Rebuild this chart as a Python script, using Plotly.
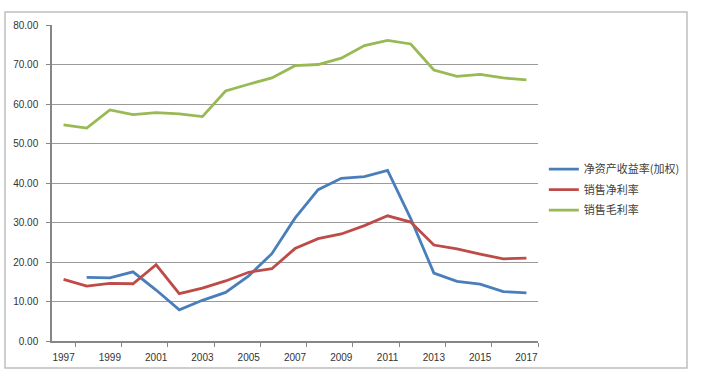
import plotly.graph_objects as go

years = list(range(1997, 2018))
roe = [None, 16.1, 16.0, 17.5, 12.9, 7.9, 10.3, 12.3, 16.5, 22.1, 31.1, 38.3, 41.2, 41.6, 43.2, 31.0, 17.2, 15.1, 14.4, 12.5, 12.2]
net_margin = [15.6, 13.9, 14.6, 14.5, 19.3, 12.0, 13.4, 15.2, 17.4, 18.3, 23.4, 25.9, 27.1, 29.2, 31.7, 30.1, 24.3, 23.3, 22.0, 20.8, 21.0]
gross_margin = [54.7, 53.9, 58.5, 57.3, 57.8, 57.5, 56.8, 63.3, 65.0, 66.6, 69.7, 70.0, 71.6, 74.8, 76.1, 75.2, 68.6, 67.0, 67.5, 66.6, 66.1]
names = ["净资产收益率(加权)", "销售净利率", "销售毛利率"]
colors = ["#4A7EBB", "#BE4B48", "#98B954"]
xtick_years = list(range(1997, 2018, 2))
ytick_vals = list(range(0, 81, 10))

fig = go.Figure()
for i, (name, vals, c) in enumerate(zip(names, [roe, net_margin, gross_margin], colors)):
    fig.add_trace(go.Scatter(x=years, y=vals, mode="lines", name=name, legendgroup=f"g{i}",
                             line=dict(color=c, width=2.8), connectgaps=False))

font_stack = "Liberation Sans, Arial, Noto Sans CJK SC, sans-serif"
fig.update_layout(
    width=702, height=387,
    margin=dict(l=52, r=164, t=25, b=46),
    paper_bgcolor="white", plot_bgcolor="white",
    font=dict(family=font_stack, size=10, color="#333333"),
    showlegend=True,
    legend=dict(x=1.012, y=0.59, xanchor="left", yanchor="top",
                font=dict(family="Noto Sans CJK SC, sans-serif", size=11, color="#404040"),
                bgcolor="rgba(0,0,0,0)", tracegroupgap=1.5, itemwidth=30),
    shapes=[dict(type="rect", xref="paper", yref="paper",
                 x0=-0.0967, x1=1.3066, y0=-0.0854, y1=1.0411,
                 line=dict(color="#BFBFBF", width=1.5), layer="below")],
)
fig.update_xaxes(
    range=[1996.5, 2017.5], tickmode="array", tickvals=xtick_years,
    ticktext=[str(y) for y in xtick_years],
    ticks="", showgrid=False, showline=True, linecolor="#868686", linewidth=1.5,
    zeroline=False, ticklabelstandoff=6,
    minor=dict(tickmode="linear", tick0=1997.5, dtick=2, ticks="outside",
               ticklen=4, tickcolor="#868686", showgrid=False),
)
fig.update_yaxes(
    range=[0, 80], tickmode="array", tickvals=ytick_vals, tickformat=".2f",
    ticks="outside", ticklen=4, tickcolor="#868686",
    showgrid=True, gridcolor="#9A9A9A", gridwidth=1,
    showline=True, linecolor="#868686", linewidth=1.5, zeroline=False,
    ticklabelstandoff=6,
)
fig.write_html("out.html", config={"displayModeBar": False},
               post_script="document.body.style.margin='0';")
